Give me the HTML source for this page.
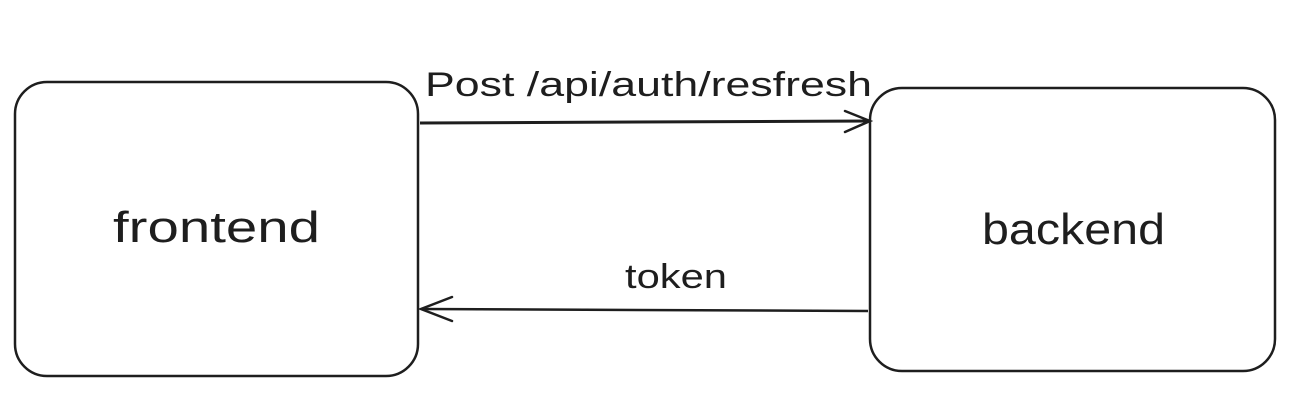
<!DOCTYPE html>
<html><head><meta charset="utf-8"><style>
html,body{margin:0;padding:0;background:#fff;}
svg text{font-family:"Liberation Sans",sans-serif;fill:#1e1e1e;}
</style></head><body>
<svg width="1298" height="402" viewBox="0 0 1298 402" xmlns="http://www.w3.org/2000/svg">
<rect x="15" y="82" width="403" height="294" rx="32" ry="32" fill="none" stroke="#1e1e1e" stroke-width="2.5"/>
<rect x="870" y="88" width="405" height="283" rx="32" ry="32" fill="none" stroke="#1e1e1e" stroke-width="2.5"/>
<text x="113" y="242" font-size="44" textLength="207" lengthAdjust="spacingAndGlyphs">frontend</text>
<text x="982" y="244" font-size="44" textLength="183" lengthAdjust="spacingAndGlyphs">backend</text>
<line x1="420" y1="123" x2="870" y2="121" stroke="#1e1e1e" stroke-width="3"/>
<path d="M845 111 L870 121 L845 132" fill="none" stroke="#1e1e1e" stroke-width="2.5" stroke-linecap="round"/>
<text x="425" y="96" font-size="34" textLength="447" lengthAdjust="spacingAndGlyphs">Post /api/auth/resfresh</text>
<line x1="868" y1="311" x2="421" y2="309" stroke="#1e1e1e" stroke-width="2.5"/>
<path d="M452 297 L421 309 L452 321" fill="none" stroke="#1e1e1e" stroke-width="2.5" stroke-linecap="round"/>
<text x="625" y="288" font-size="34" textLength="102" lengthAdjust="spacingAndGlyphs">token</text>
</svg>
</body></html>
